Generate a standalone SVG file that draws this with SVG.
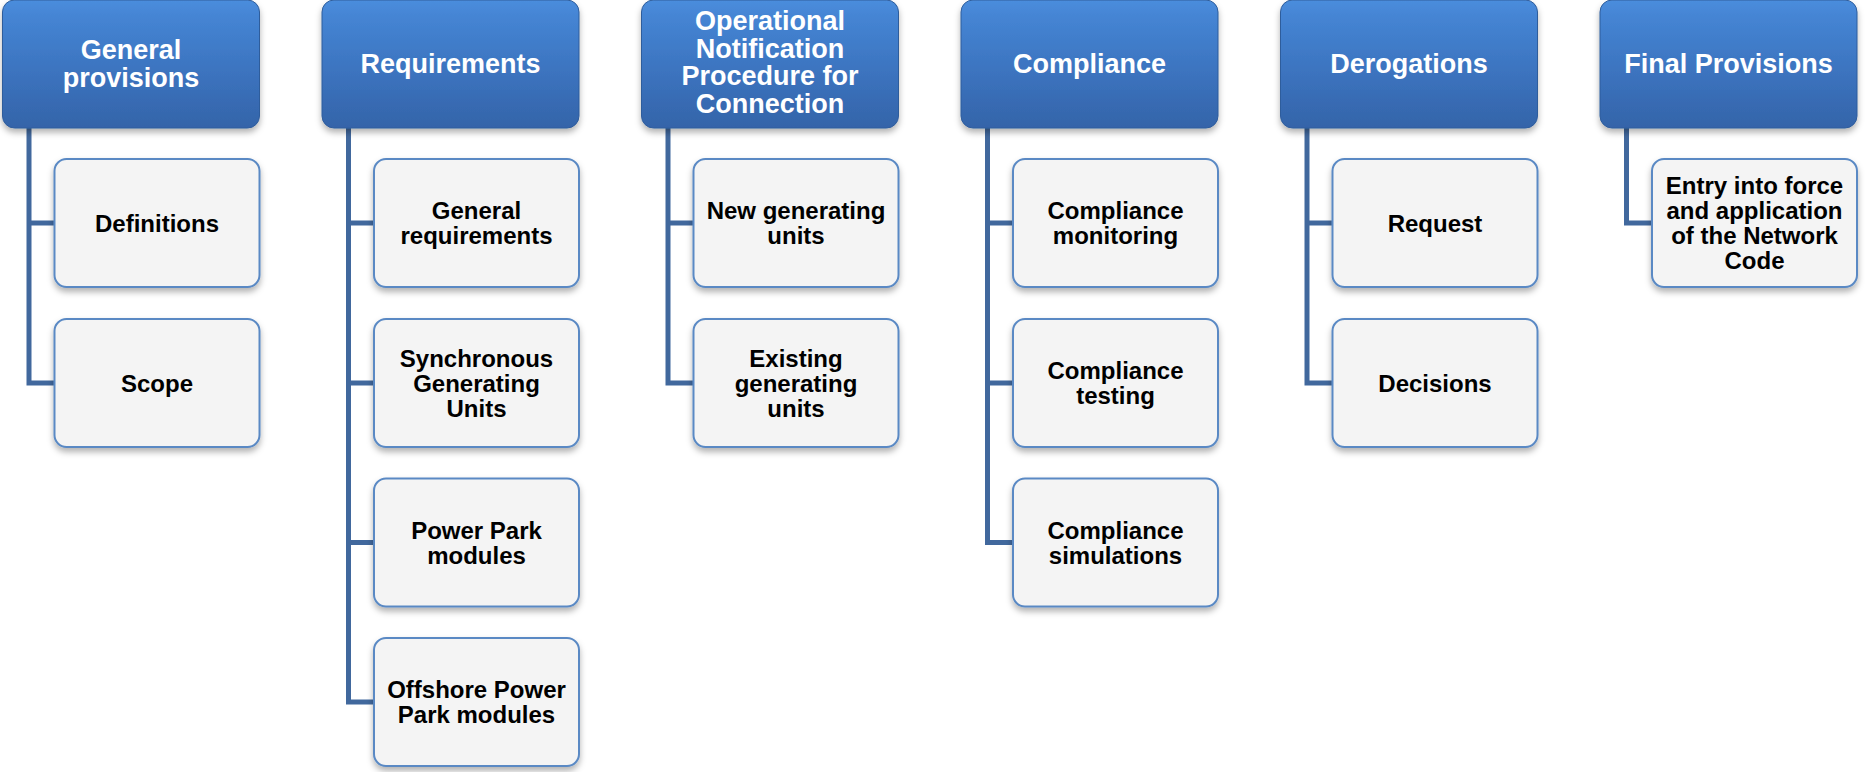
<svg xmlns="http://www.w3.org/2000/svg" width="1865" height="772" viewBox="0 0 1865 772">
<defs>
<linearGradient id="hg" x1="0" y1="0" x2="0" y2="1">
<stop offset="0" stop-color="#4b8ddd"/>
<stop offset="0.12" stop-color="#4585d4"/>
<stop offset="0.6" stop-color="#3b72bd"/>
<stop offset="1" stop-color="#3464a9"/>
</linearGradient>
<filter id="sh" x="-10%" y="-10%" width="120%" height="130%">
<feDropShadow dx="0" dy="4" stdDeviation="3" flood-color="#000" flood-opacity="0.3"/>
</filter>
</defs>
<style>
.hdr{fill:url(#hg);stroke:#2f5d9c;stroke-width:1;filter:url(#sh)}
.chd{fill:#f4f4f4;stroke:#5a89c4;stroke-width:2;filter:url(#sh)}
.ht{font-family:"Liberation Sans",Arial,sans-serif;font-weight:bold;font-size:27px;fill:#fff;text-anchor:middle}
.ct{font-family:"Liberation Sans",Arial,sans-serif;font-weight:bold;font-size:24px;fill:#000;text-anchor:middle}
.con{fill:none;stroke:#41689d;stroke-width:5;stroke-linejoin:miter;stroke-linecap:butt}
</style>
<rect width="1865" height="772" fill="#fff"/>
<g id="connectors">
<path class="con" d="M29,126 V383 H56 M29,223 H56"/>
<path class="con" d="M348.5,126 V702 H376 M348.5,223 H376 M348.5,383 H376 M348.5,542.5 H376"/>
<path class="con" d="M668,126 V383 H695 M668,223 H695"/>
<path class="con" d="M987.5,126 V542.5 H1015 M987.5,223 H1015 M987.5,383 H1015"/>
<path class="con" d="M1307,126 V383 H1334 M1307,223 H1334"/>
<path class="con" d="M1626.5,126 V223 H1654"/>
</g>
<g id="h1"><rect class="hdr" x="2.5" y="0" width="257" height="128" rx="12"/><text class="ht" x="131" y="58.5">General</text><text class="ht" x="131" y="86.5">provisions</text></g>
<g id="h2"><rect class="hdr" x="322" y="0" width="257" height="128" rx="12"/><text class="ht" x="450.5" y="72.5">Requirements</text></g>
<g id="h3"><rect class="hdr" x="641.5" y="0" width="257" height="128" rx="12"/><text class="ht" x="770" y="30">Operational</text><text class="ht" x="770" y="57.7">Notification</text><text class="ht" x="770" y="85.3">Procedure for</text><text class="ht" x="770" y="113">Connection</text></g>
<g id="h4"><rect class="hdr" x="961" y="0" width="257" height="128" rx="12"/><text class="ht" x="1089.5" y="72.5">Compliance</text></g>
<g id="h5"><rect class="hdr" x="1280.5" y="0" width="257" height="128" rx="12"/><text class="ht" x="1409" y="72.5">Derogations</text></g>
<g id="h6"><rect class="hdr" x="1600" y="0" width="257" height="128" rx="12"/><text class="ht" x="1728.5" y="72.5">Final Provisions</text></g>

<g id="c1a"><rect class="chd" x="54.5" y="159" width="205" height="128" rx="12"/><text class="ct" x="157" y="231.5">Definitions</text></g>
<g id="c1b"><rect class="chd" x="54.5" y="319" width="205" height="128" rx="12"/><text class="ct" x="157" y="391.5">Scope</text></g>

<g id="c2a"><rect class="chd" x="374" y="159" width="205" height="128" rx="12"/><text class="ct" x="476.5" y="219">General</text><text class="ct" x="476.5" y="244">requirements</text></g>
<g id="c2b"><rect class="chd" x="374" y="319" width="205" height="128" rx="12"/><text class="ct" x="476.5" y="366.5">Synchronous</text><text class="ct" x="476.5" y="391.5">Generating</text><text class="ct" x="476.5" y="416.5">Units</text></g>
<g id="c2c"><rect class="chd" x="374" y="478.5" width="205" height="128" rx="12"/><text class="ct" x="476.5" y="538.5">Power Park</text><text class="ct" x="476.5" y="563.5">modules</text></g>
<g id="c2d"><rect class="chd" x="374" y="638" width="205" height="128" rx="12"/><text class="ct" x="476.5" y="698">Offshore Power</text><text class="ct" x="476.5" y="723">Park modules</text></g>

<g id="c3a"><rect class="chd" x="693.5" y="159" width="205" height="128" rx="12"/><text class="ct" x="796" y="219">New generating</text><text class="ct" x="796" y="244">units</text></g>
<g id="c3b"><rect class="chd" x="693.5" y="319" width="205" height="128" rx="12"/><text class="ct" x="796" y="366.5">Existing</text><text class="ct" x="796" y="391.5">generating</text><text class="ct" x="796" y="416.5">units</text></g>

<g id="c4a"><rect class="chd" x="1013" y="159" width="205" height="128" rx="12"/><text class="ct" x="1115.5" y="219">Compliance</text><text class="ct" x="1115.5" y="244">monitoring</text></g>
<g id="c4b"><rect class="chd" x="1013" y="319" width="205" height="128" rx="12"/><text class="ct" x="1115.5" y="379">Compliance</text><text class="ct" x="1115.5" y="404">testing</text></g>
<g id="c4c"><rect class="chd" x="1013" y="478.5" width="205" height="128" rx="12"/><text class="ct" x="1115.5" y="538.5">Compliance</text><text class="ct" x="1115.5" y="563.5">simulations</text></g>

<g id="c5a"><rect class="chd" x="1332.5" y="159" width="205" height="128" rx="12"/><text class="ct" x="1435" y="231.5">Request</text></g>
<g id="c5b"><rect class="chd" x="1332.5" y="319" width="205" height="128" rx="12"/><text class="ct" x="1435" y="391.5">Decisions</text></g>

<g id="c6a"><rect class="chd" x="1652" y="159" width="205" height="128" rx="12"/><text class="ct" x="1754.5" y="194">Entry into force</text><text class="ct" x="1754.5" y="219">and application</text><text class="ct" x="1754.5" y="244">of the Network</text><text class="ct" x="1754.5" y="269">Code</text></g>
</svg>
